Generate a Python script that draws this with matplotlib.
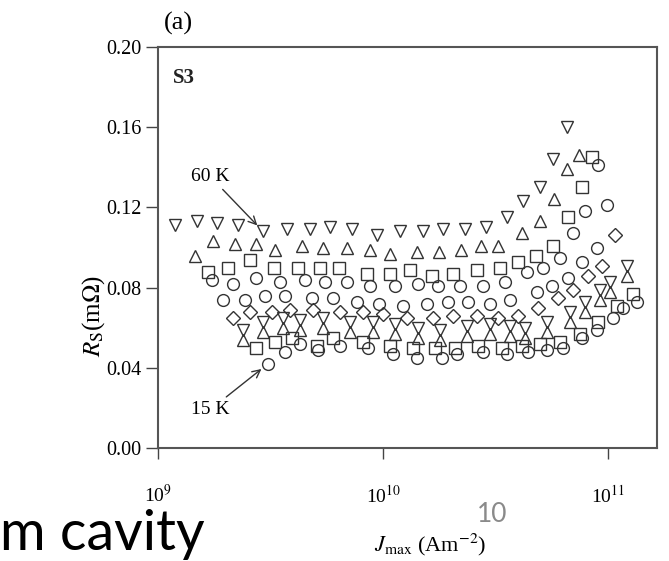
import numpy as np
import matplotlib.pyplot as plt

plt.rcParams['font.family'] = 'Liberation Serif'
plt.rcParams['mathtext.fontset'] = 'stix'

# J_max in units of 1e9 A/m^2, Rs in mOhm
j_dtri = [1.19, 1.49, 1.83, 2.27, 2.93, 3.74, 4.74, 5.81, 7.28, 9.4, 11.9, 15.1, 18.5, 23.1, 28.7, 35.6, 41.9, 49.9, 57.0, 65.7]
rs_dtri = [0.111, 0.113, 0.112, 0.111, 0.108, 0.109, 0.109, 0.110, 0.109, 0.106, 0.108, 0.108, 0.109, 0.109, 0.110, 0.115, 0.123, 0.130, 0.144, 0.160]

j_utri = [1.46, 1.76, 2.20, 2.73, 3.31, 4.37, 5.41, 6.92, 8.75, 10.7, 14.2, 17.7, 22.2, 27.3, 32.4, 41.5, 49.9, 57.5, 65.7, 74.3]
rs_utri = [0.096, 0.103, 0.102, 0.102, 0.099, 0.101, 0.100, 0.100, 0.099, 0.097, 0.098, 0.098, 0.099, 0.101, 0.101, 0.107, 0.113, 0.124, 0.139, 0.146]

j_sq1 = [1.67, 2.05, 2.56, 3.28, 4.19, 5.25, 6.38, 8.49, 10.7, 13.2, 16.5, 20.5, 26.2, 33.1, 39.8, 47.9, 57.0, 66.4, 76.6, 84.9]
rs_sq1 = [0.088, 0.090, 0.094, 0.090, 0.090, 0.090, 0.090, 0.087, 0.087, 0.089, 0.086, 0.087, 0.089, 0.090, 0.093, 0.096, 0.101, 0.115, 0.130, 0.145]

j_c1 = [1.74, 2.15, 2.73, 3.49, 4.50, 5.53, 6.92, 8.75, 11.3, 14.3, 17.6, 22.0, 27.8, 34.9, 43.7, 51.4, 61.2, 69.9, 79.0, 90.3]
rs_c1 = [0.084, 0.082, 0.085, 0.083, 0.084, 0.083, 0.083, 0.081, 0.081, 0.082, 0.081, 0.081, 0.081, 0.083, 0.088, 0.090, 0.095, 0.107, 0.118, 0.141]

j_c2 = [1.95, 2.44, 2.99, 3.67, 4.84, 6.00, 7.66, 9.60, 12.2, 15.7, 19.5, 23.9, 29.9, 36.7, 48.4, 56.4, 66.4, 76.6, 89.3, 99.0]
rs_c2 = [0.074, 0.074, 0.076, 0.076, 0.075, 0.075, 0.073, 0.072, 0.071, 0.072, 0.073, 0.073, 0.072, 0.074, 0.078, 0.081, 0.085, 0.093, 0.100, 0.121]

j_dia = [2.15, 2.56, 3.21, 3.86, 4.89, 6.44, 8.15, 10.0, 12.8, 16.7, 20.5, 26.2, 32.4, 39.8, 48.9, 60.0, 69.9, 81.5, 94.1, 107.4]
rs_dia = [0.065, 0.068, 0.068, 0.069, 0.069, 0.068, 0.068, 0.067, 0.065, 0.065, 0.066, 0.066, 0.065, 0.066, 0.070, 0.075, 0.079, 0.086, 0.091, 0.106]

j_hg = [2.39, 2.93, 3.59, 4.28, 5.41, 7.14, 9.03, 11.3, 14.3, 17.9, 23.6, 29.9, 36.7, 42.8, 53.6, 67.8, 79.0, 92.1, 102.1, 121.5]
rs_hg_down = [0.059, 0.063, 0.065, 0.064, 0.065, 0.063, 0.063, 0.062, 0.060, 0.059, 0.061, 0.062, 0.061, 0.060, 0.063, 0.068, 0.073, 0.079, 0.083, 0.091]
rs_hg_up = [0.054, 0.058, 0.060, 0.059, 0.060, 0.058, 0.058, 0.057, 0.055, 0.054, 0.056, 0.057, 0.056, 0.055, 0.058, 0.063, 0.068, 0.074, 0.078, 0.086]

j_sq2 = [2.73, 3.31, 3.94, 5.09, 6.00, 8.15, 10.7, 13.6, 17.0, 20.9, 26.4, 33.8, 41.5, 49.9, 61.2, 75.1, 90.3, 109.6, 129.2]
rs_sq2 = [0.050, 0.053, 0.055, 0.051, 0.055, 0.053, 0.051, 0.050, 0.050, 0.050, 0.051, 0.050, 0.051, 0.052, 0.053, 0.057, 0.063, 0.071, 0.077]

j_c3 = [3.08, 3.67, 4.28, 5.14, 6.44, 8.58, 11.1, 14.2, 18.3, 21.3, 27.8, 35.6, 44.1, 53.6, 63.1, 76.6, 89.3, 105.2, 116.6, 134.5]
rs_c3 = [0.042, 0.048, 0.052, 0.049, 0.051, 0.050, 0.047, 0.045, 0.045, 0.047, 0.048, 0.047, 0.048, 0.049, 0.050, 0.055, 0.059, 0.065, 0.070, 0.073]

series = [
    (j_dtri, rs_dtri, 'v'),
    (j_utri, rs_utri, '^'),
    (j_sq1, rs_sq1, 's'),
    (j_c1, rs_c1, 'o'),
    (j_c2, rs_c2, 'o'),
    (j_dia, rs_dia, 'D'),
    (j_hg, rs_hg_down, 'v'),
    (j_hg, rs_hg_up, '^'),
    (j_sq2, rs_sq2, 's'),
    (j_c3, rs_c3, 'o'),
]

fig = plt.figure(figsize=(6.69, 5.61), dpi=100)
ax = fig.add_axes([0.2362, 0.2014, 0.746, 0.7148])

ink = '#333333'
for j, rs, m in series:
    ms = 7 if m == 'D' else 8.5
    ax.plot(np.array(j) * 1e9, rs, linestyle='none', marker=m, ms=ms,
            mfc='none', mec=ink, mew=1.0)

ax.set_xscale('log')
ax.set_xlim(1e9, 1.65e11)
ax.set_ylim(0, 0.2)
ax.set_xticks([1e9, 1e10, 1e11])
ax.set_xticklabels(['10$^{9}$', '10$^{10}$', '10$^{11}$'])
ax.minorticks_off()
ax.set_yticks([0, 0.04, 0.08, 0.12, 0.16, 0.20])
ax.set_yticklabels(['0.00', '0.04', '0.08', '0.12', '0.16', '0.20'])
ax.tick_params(axis='y', direction='out', length=9, width=1.0, labelsize=14.5, pad=3, color='#444')
ax.tick_params(axis='x', direction='out', length=8, width=1.0, labelsize=14, pad=18, color='#444')
for s in ax.spines.values():
    s.set_color('#555')
    s.set_linewidth(1.5)

ax.text(0.052, 0.923, 'S3', transform=ax.transAxes, fontsize=15,
        fontweight='bold', ha='center', va='center', color='#222')

ax.annotate('60 K', xy=(j_dtri[4] * 1e9, rs_dtri[4]), xytext=(0.104, 0.678),
            textcoords='axes fraction', fontsize=14, ha='center', va='center',
            arrowprops=dict(arrowstyle='->', color='#333', lw=1.0, shrinkA=2, shrinkB=6))
ax.annotate('15 K', xy=(j_c3[0] * 1e9, rs_c3[0]), xytext=(0.104, 0.095),
            textcoords='axes fraction', fontsize=14, ha='center', va='center',
            arrowprops=dict(arrowstyle='->', color='#333', lw=1.0, shrinkA=2, shrinkB=6))

fig.text(0.14, 0.437, r'$R_{\rm S}$(m$\Omega$)', rotation=90, fontsize=18,
         ha='center', va='center')
fig.text(0.643, 0.028, r'$J_{\rm max}$ (Am$^{-2}$)', fontsize=16,
         ha='center', va='center')
fig.text(0.266, 0.958, '(a)', fontsize=19, ha='center', va='center')

# slide leftovers around the pasted figure
fig.text(0.0, 0.02, 'm cavity', fontsize=40, family='Lato', ha='left',
         va='baseline', color='black')
fig.text(0.735, 0.082, '10', fontsize=19, family='Lato', ha='center',
         va='center', color='#8a8a8a')

fig.savefig('out.png', dpi=100)
